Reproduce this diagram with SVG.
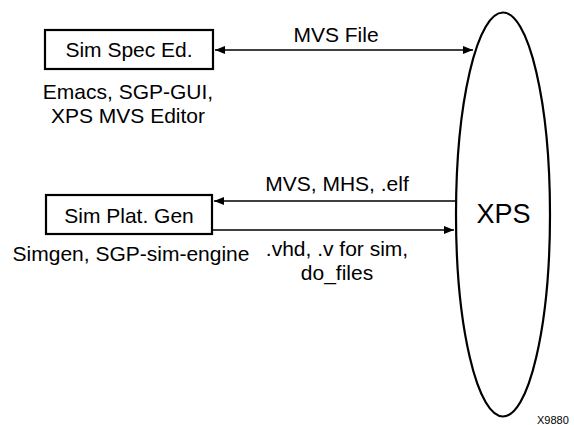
<svg xmlns="http://www.w3.org/2000/svg" width="574" height="425" viewBox="0 0 574 425">
<style>
text{font-family:"Liberation Sans",Arial,sans-serif;font-size:21px;fill:#000;text-anchor:middle}
.box{fill:#fff;stroke:#000;stroke-width:2.2}
.conn{stroke:#000;stroke-width:1.3;fill:none}
</style>
<defs>
<marker id="ah" viewBox="0 0 10 8" refX="10" refY="4" markerWidth="10" markerHeight="8" markerUnits="userSpaceOnUse" orient="auto-start-reverse">
<path d="M0,0 L10,4 L0,8 Z" fill="#000"/>
</marker>
</defs>
<rect width="574" height="425" fill="#fff"/>
<g id="connectors">
<line class="conn" x1="215" y1="50" x2="473" y2="50" marker-start="url(#ah)" marker-end="url(#ah)"/>
<line class="conn" x1="457" y1="201" x2="214" y2="201" marker-end="url(#ah)"/>
<line class="conn" x1="212" y1="230" x2="454" y2="230" marker-end="url(#ah)"/>
<text x="336" y="42">MVS File</text>
<text x="337" y="191">MVS, MHS, .elf</text>
<text x="337" y="256">.vhd, .v for sim,</text>
<text x="337" y="280">do_files</text>
</g>
<g id="simspec">
<rect class="box" x="45" y="30" width="168" height="39"/>
<text x="129" y="57">Sim Spec Ed.</text>
<text x="128" y="99">Emacs, SGP-GUI,</text>
<text x="128" y="123">XPS MVS Editor</text>
</g>
<g id="simplat">
<rect class="box" x="46" y="195" width="166" height="39"/>
<text x="129" y="223">Sim Plat. Gen</text>
<text x="131" y="261">Simgen, SGP-sim-engine</text>
</g>
<g id="xps">
<ellipse cx="503" cy="214.5" rx="47" ry="202" fill="none" stroke="#000" stroke-width="2.2"/>
<text x="503.5" y="223" style="font-size:27px">XPS</text>
</g>
<text x="537" y="424" style="font-size:11px;text-anchor:start">X9880</text>
</svg>
